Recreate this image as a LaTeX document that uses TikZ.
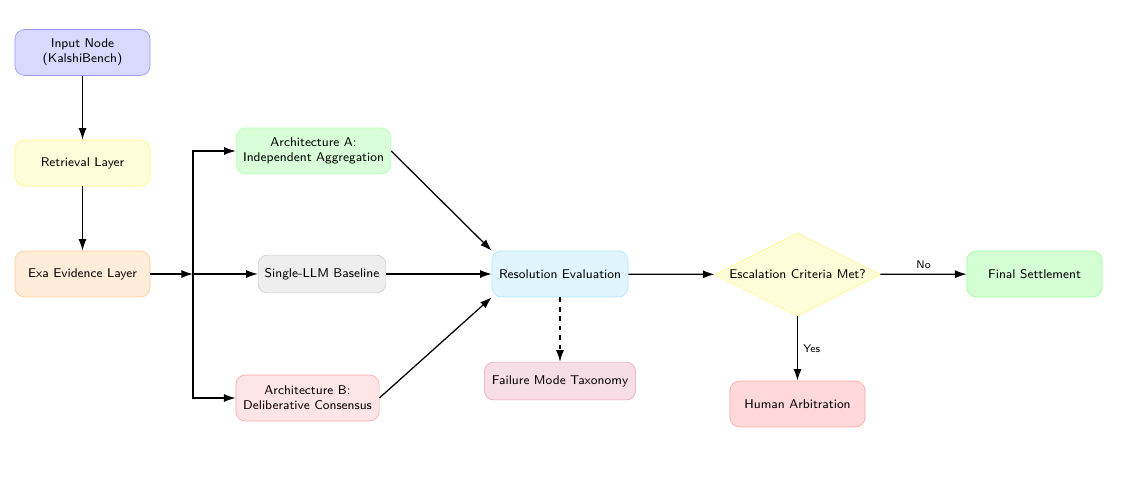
\documentclass[tikz,border=0pt]{standalone}
\usetikzlibrary{shapes.geometric,arrows.meta}
\begin{document}
\begin{tikzpicture}[x=0.022222cm,y=-0.022222cm,
  font=\sffamily\footnotesize,
  box/.style={draw, rounded corners=6pt, align=center, inner sep=2pt, minimum height=1.02cm},
  arr/.style={-{Latex[length=2.6mm,width=1.8mm]}, thick},
  decision/.style={diamond, draw, shape aspect=2, inner sep=1.2pt, align=center}
]
\useasboundingbox (0,0) rectangle (1122,476);
\node[box, fill=blue!15, draw=blue!40, minimum width=3cm] (input) at (82.5,52.5) {Input Node\\(KalshiBench)};
\node[box, fill=yellow!15, draw=yellow!45, minimum width=3cm] (retr) at (82.5,163) {Retrieval Layer};
\node[box, fill=orange!15, draw=orange!40, minimum width=3cm] (exa) at (82.5,274) {Exa Evidence Layer};
\coordinate (j) at (193,274);
\node[box, fill=green!15, draw=green!30, minimum width=3.44cm] (archa) at (313.5,151) {Architecture A:\\Independent Aggregation};
\node[box, fill=gray!13, draw=gray!40, minimum width=2.84cm, minimum height=0.84cm] (single) at (322,274) {Single-LLM Baseline};
\node[box, fill=red!10, draw=red!35, minimum width=3.18cm] (archb) at (307.5,398) {Architecture B:\\Deliberative Consensus};
\node[box, fill=cyan!12, draw=cyan!30, minimum width=3.02cm] (res) at (560,274) {Resolution Evaluation};
\node[box, fill=purple!13, draw=purple!35, minimum width=3.36cm, minimum height=0.84cm] (fail) at (560,381) {Failure Mode Taxonomy};
\node[decision, fill=yellow!15, draw=yellow!45] (esc) at (797.5,274.5) {Escalation Criteria Met?};
\node[box, fill=green!17, draw=green!40, minimum width=3cm] (final) at (1034.5,274) {Final Settlement};
\node[box, fill=red!15, draw=red!35, minimum width=3cm] (human) at (797.5,404) {Human Arbitration};

\draw[arr] (input) -- (retr);
\draw[arr] (retr) -- (exa);
\draw[arr] (exa) -- (j);
\draw[arr] (j) |- (archa.west);
\draw[arr] (j) |- (archb.west);
\draw[arr] (j) -- (single.west);
\draw[arr] (archa.east) -- (res.north west);
\draw[arr] (single) -- (res);
\draw[arr] (archb.east) -- (res.south west);
\draw[arr, dashed] (res) -- (fail);
\draw[arr] (res) -- (esc);
\draw[arr] (esc) -- node[above, font=\sffamily\scriptsize] {No} (final);
\draw[arr] (esc) -- node[right, font=\sffamily\scriptsize] {Yes} (human);
\end{tikzpicture}
\end{document}
